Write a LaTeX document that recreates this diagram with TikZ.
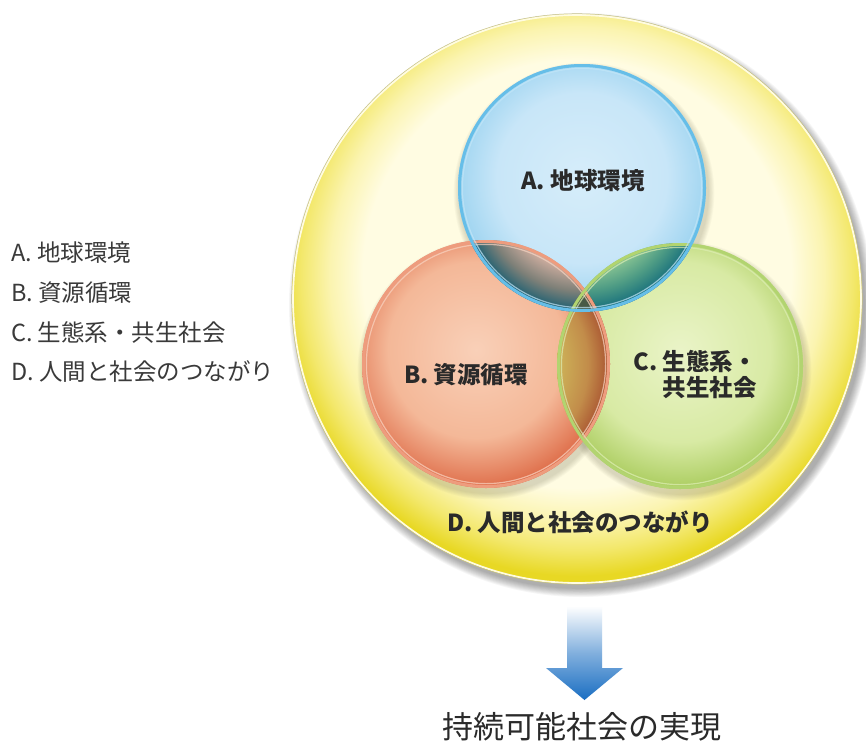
\documentclass[tikz,border=0pt]{standalone}
\usepackage{fontspec}
\setmainfont{Noto Sans CJK JP}
\usetikzlibrary{calc}

\definecolor{ycream}{HTML}{FFFCE2}
\definecolor{ylight}{HTML}{FBF4B0}
\definecolor{ymid}{HTML}{F3E86C}
\definecolor{ydeep}{HTML}{E8D824}
\definecolor{bl1}{HTML}{D6EDFA}
\definecolor{bl2}{HTML}{C8E6F8}
\definecolor{bl3}{HTML}{9ED4F0}
\definecolor{rd1}{HTML}{F9D0B8}
\definecolor{rd2}{HTML}{F4B898}
\definecolor{rd3}{HTML}{DE6C48}
\definecolor{gr1}{HTML}{EAF4C8}
\definecolor{gr2}{HTML}{D8EAA4}
\definecolor{gr3}{HTML}{AACC5E}
\definecolor{ab1}{HTML}{CCAC9E}
\definecolor{ab2}{HTML}{7E8078}
\definecolor{ab3}{HTML}{175E72}
\definecolor{ac1}{HTML}{8EC894}
\definecolor{ac2}{HTML}{4C9A84}
\definecolor{ac3}{HTML}{136C7C}
\definecolor{bc1}{HTML}{CDB258}
\definecolor{bc2}{HTML}{C28C4A}
\definecolor{bc3}{HTML}{A85230}
\definecolor{tripc}{HTML}{485A46}
\definecolor{bluerim}{HTML}{66BEE8}
\definecolor{bluerimlt}{HTML}{C2E6F8}
\definecolor{redrim}{HTML}{EE9C7E}
\definecolor{redrimlt}{HTML}{F9D4C2}
\definecolor{grrim}{HTML}{B2D470}
\definecolor{grrimlt}{HTML}{DDEEB4}
\definecolor{arrowblue}{HTML}{1A6EC2}
\definecolor{txtc}{HTML}{2A2A2A}
\definecolor{legc}{HTML}{3A3A3A}

% absolute-size radial shadings (placed with \pgfuseshading)
\pgfdeclareradialshading{yballx}{\pgfpoint{0pt}{0pt}}{color(0pt)=(ycream); color(214pt)=(ycream); color(247pt)=(ylight); color(276pt)=(ymid); color(302pt)=(ydeep); color(322pt)=(ydeep)}
\pgfdeclareradialshading{blballx}{\pgfpoint{0pt}{0pt}}{color(0pt)=(bl1); color(85pt)=(bl2); color(128pt)=(bl3); color(142pt)=(bl3)}
\pgfdeclareradialshading{rdballx}{\pgfpoint{0pt}{0pt}}{color(0pt)=(rd1); color(88pt)=(rd2); color(140pt)=(rd3); color(150pt)=(rd3)}
\pgfdeclareradialshading{grballx}{\pgfpoint{0pt}{0pt}}{color(0pt)=(gr1); color(90pt)=(gr2); color(138pt)=(gr3); color(150pt)=(gr3)}
\pgfdeclareradialshading{abx}{\pgfpoint{0pt}{0pt}}{color(0pt)=(ab1); color(80pt)=(ab1); color(103pt)=(ab2); color(124pt)=(ab3); color(130pt)=(ab3)}
\pgfdeclareradialshading{acx}{\pgfpoint{0pt}{0pt}}{color(0pt)=(ac1); color(80pt)=(ac1); color(103pt)=(ac2); color(124pt)=(ac3); color(130pt)=(ac3)}
\pgfdeclareradialshading{bcx}{\pgfpoint{0pt}{0pt}}{color(0pt)=(bc1); color(72pt)=(bc1); color(102pt)=(bc2); color(124pt)=(bc3); color(130pt)=(bc3)}

\tikzset{
  shd/.style={inner sep=0pt, outer sep=0pt},
  lbl/.style={text=txtc, font=\bfseries\fontsize{23.5}{26}\selectfont, inner sep=0pt},
  leg/.style={text=legc, font=\fontsize{23.5}{26}\selectfont, inner sep=0pt, anchor=west},
  goal/.style={text=txtc, font=\fontsize{31}{34}\selectfont, inner sep=0pt},
}

\begin{document}
\begin{tikzpicture}[x=1pt,y=-1pt]
\useasboundingbox[fill=white] (0,0) rectangle (866,744);

\coordinate (cO) at (577,299);
\coordinate (cA) at (582,188);
\coordinate (cB) at (486,364);
\coordinate (cC) at (680,366);

% outer shadow
\foreach \i in {1,...,10}
  \fill[black,opacity=0.035] ($(cO)+(4,6)$) circle[radius={283pt+\i*0.9pt}];
% outer yellow circle
\begin{scope}
  \clip (cO) circle[radius=285pt];
  \node[shd] (shO) at ($(cO)+(0,-25)$) {\pgfuseshading{yballx}};
\end{scope}
\draw[line width=1.8pt, ycream] (cO) circle[radius=284pt];
\draw[line width=0.5pt, ydeep!60!black!50] (cO) circle[radius=285.3pt];

% shadows of the coloured circles
\foreach \c/\r in {cB/124,cC/123,cA/124}
  \foreach \i in {1,...,7}
    \fill[black!70!yellow,opacity=0.035] ($(\c)+(2,5)$) circle[radius={\r pt+\i*0.9pt}];

% bodies
\begin{scope}
  \clip (cB) circle[radius=124pt];
  \node[shd] (shB) at ($(cB)+(-10,-14)$) {\pgfuseshading{rdballx}};
\end{scope}
\begin{scope}
  \clip (cC) circle[radius=123pt];
  \node[shd] (shC) at ($(cC)+(0,-14)$) {\pgfuseshading{grballx}};
\end{scope}
\begin{scope}
  \clip (cA) circle[radius=124pt];
  \node[shd] (shA) at ($(cA)+(0,-10)$) {\pgfuseshading{blballx}};
\end{scope}

% overlaps
\begin{scope}
  \clip (cB) circle[radius=124pt];
  \clip (cA) circle[radius=124pt];
  \node[shd] (shAB) at (cA) {\pgfuseshading{abx}};
\end{scope}
\begin{scope}
  \clip (cC) circle[radius=123pt];
  \clip (cA) circle[radius=124pt];
  \node[shd] (shAC) at (cA) {\pgfuseshading{acx}};
\end{scope}
\begin{scope}
  \clip (cC) circle[radius=123pt];
  \clip (cB) circle[radius=124pt];
  \node[shd] (shBC) at (cB) {\pgfuseshading{bcx}};
\end{scope}
\begin{scope}
  \clip (cA) circle[radius=124pt];
  \clip (cB) circle[radius=124pt];
  \fill[tripc] (cC) circle[radius=123pt];
\end{scope}

% rims
\draw[line width=3pt, redrim] (cB) circle[radius=122.5pt];
\draw[line width=1.2pt, redrimlt, opacity=0.7] (cB) circle[radius=119.6pt];
\draw[line width=3pt, grrim] (cC) circle[radius=121.5pt];
\draw[line width=1.2pt, grrimlt, opacity=0.7] (cC) circle[radius=118.6pt];
\draw[line width=3pt, bluerim] (cA) circle[radius=122.5pt];
\draw[line width=1.2pt, bluerimlt, opacity=0.7] (cA) circle[radius=119.6pt];

% labels in circles
\node[lbl] (tA) at (583,181) {A. 地球環境};
\node[lbl] (tB) at (466,375) {B. 資源循環};
\node[lbl, align=right, anchor=east] (tC) at (757,375) {C. 生態系・\\共生社会};
\node[lbl] (tD) at (580,522) {D. 人間と社会のつながり};

% legend
\node[leg] (lA) at (11,253) {A. 地球環境};
\node[leg] (lB) at (11,293) {B. 資源循環};
\node[leg] (lC) at (11,333) {C. 生態系・共生社会};
\node[leg] (lD) at (11,372) {D. 人間と社会のつながり};

% arrow
\shade[top color=white, bottom color=arrowblue, middle color=arrowblue!55!white]
  (567,606) -- (602,606) -- (602,668) -- (623,668) -- (584.5,700)
  -- (546,668) -- (567,668) -- cycle;

% goal text
\node[goal] (goal) at (582,727) {持続可能社会の実現};
\end{tikzpicture}
\end{document}
